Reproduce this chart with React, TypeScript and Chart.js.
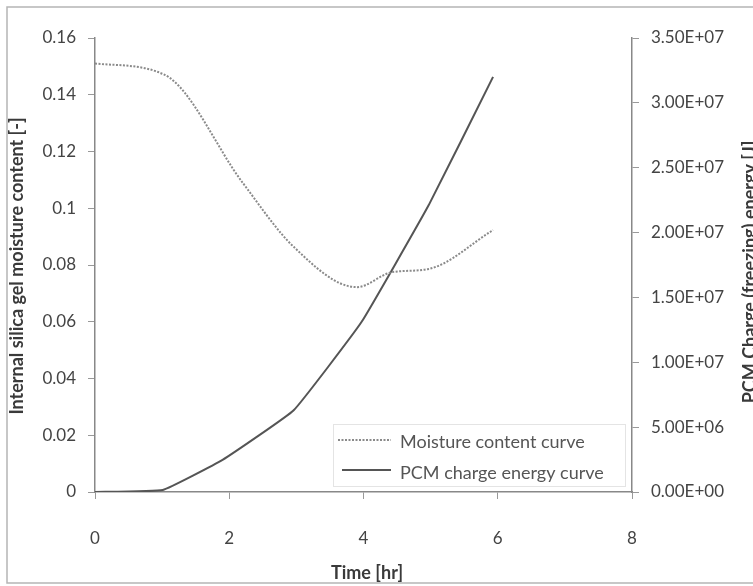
import React, { useEffect, useRef } from "react";
import { Chart, registerables } from "chart.js";

Chart.register(...registerables);

const moistureTime = [0, 1.04, 2.2, 2.96, 3.9, 4.43, 4.97, 5.93];
const moistureValues = [0.151, 0.147, 0.109, 0.0864, 0.0722, 0.0775, 0.0786, 0.0923];

const pcmTime = [0, 1.01, 1.9, 2.96, 3.97, 4.97, 5.93];
const pcmValues = [0, 1.5e5, 2.47e6, 6.3e6, 1.31e7, 2.21e7, 3.2e7];

const seriesLabels = ["Moisture content curve", "PCM charge energy curve"];
const xTitle = "Time [hr]";
const yLeftTitle = "Internal silica gel moisture content [-]";
const yRightTitle = "PCM Charge (freezing) energy [J]";

const FONT = "Lato, 'DejaVu Sans', sans-serif";

function fmtExp(v: number): string {
  if (v === 0) return "0.00E+00";
  const e = Math.floor(Math.log10(Math.abs(v)));
  const m = v / Math.pow(10, e);
  const es = (e < 0 ? "-" : "+") + String(Math.abs(e)).padStart(2, "0");
  return m.toFixed(2) + "E" + es;
}

const decorPlugin = {
  id: "decor",
  beforeDraw(chart: any) {
    const { ctx, width, height } = chart;
    ctx.save();
    ctx.fillStyle = "#ffffff";
    ctx.fillRect(0, 0, width, height);
    ctx.restore();
  },
  afterDraw(chart: any) {
    const { ctx } = chart;
    ctx.save();
    // outer frame
    ctx.strokeStyle = "#b5b5b5";
    ctx.lineWidth = 1.5;
    ctx.strokeRect(7, 7, 760, 576);

    // titles
    ctx.fillStyle = "#3a3a3a";
    ctx.font = `bold 18px ${FONT}`;
    ctx.textAlign = "center";
    ctx.textBaseline = "middle";
    ctx.fillText(xTitle, 367, 573);

    ctx.save();
    ctx.translate(17, 266);
    ctx.rotate(-Math.PI / 2);
    ctx.fillText(yLeftTitle, 0, 0);
    ctx.restore();

    ctx.save();
    ctx.translate(750, 272);
    ctx.rotate(-Math.PI / 2);
    ctx.fillText(yRightTitle, 0, 0);
    ctx.restore();

    // legend
    ctx.strokeStyle = "#e4e4e4";
    ctx.lineWidth = 1;
    ctx.strokeRect(333.5, 424.5, 292, 62);

    ctx.font = `18px ${FONT}`;
    ctx.textAlign = "left";
    ctx.fillStyle = "#555";

    ctx.strokeStyle = "#8a8a8a";
    ctx.lineWidth = 2;
    ctx.setLineDash([2, 1.5]);
    ctx.beginPath();
    ctx.moveTo(338, 440);
    ctx.lineTo(391, 440);
    ctx.stroke();
    ctx.setLineDash([]);
    ctx.fillText(seriesLabels[0], 400, 442);

    ctx.strokeStyle = "#555";
    ctx.lineWidth = 2;
    ctx.beginPath();
    ctx.moveTo(342, 470);
    ctx.lineTo(391, 470);
    ctx.stroke();
    ctx.fillText(seriesLabels[1], 400, 473);
    ctx.restore();
  },
};

export default function App() {
  const ref = useRef<HTMLCanvasElement | null>(null);

  useEffect(() => {
    if (!ref.current) return;
    const tickFont = { family: FONT, size: 17 };
    const chart = new Chart(ref.current, {
      type: "line",
      data: {
        datasets: [
          {
            label: seriesLabels[0],
            data: moistureTime.map((t, i) => ({ x: t, y: moistureValues[i] })),
            yAxisID: "y",
            borderColor: "#8a8a8a",
            borderWidth: 2,
            borderDash: [2, 1.5],
            pointRadius: 0,
            cubicInterpolationMode: "monotone",
            fill: false,
          },
          {
            label: seriesLabels[1],
            data: pcmTime.map((t, i) => ({ x: t, y: pcmValues[i] })),
            yAxisID: "y1",
            borderColor: "#555555",
            borderWidth: 2,
            pointRadius: 0,
            tension: 0.1,
            fill: false,
          },
        ],
      },
      options: {
        animation: false,
        responsive: false,
        maintainAspectRatio: false,
        layout: { padding: { top: 38, left: 0, right: 0, bottom: 0 } },
        plugins: {
          legend: { display: false },
          tooltip: { enabled: false },
        },
        scales: {
          x: {
            type: "linear",
            min: 0,
            max: 8,
            ticks: {
              stepSize: 2,
              padding: 29,
              color: "#444",
              font: tickFont,
            },
            grid: {
              drawOnChartArea: false,
              drawTicks: true,
              tickLength: 7,
              tickColor: "#999",
            },
            border: { color: "#888", width: 1.5 },
            afterFit: (s: any) => {
              s.height = 94;
            },
          },
          y: {
            type: "linear",
            position: "left",
            min: 0,
            max: 0.16,
            ticks: {
              stepSize: 0.02,
              padding: 12,
              color: "#444",
              font: tickFont,
              callback: (v: any) => String(Math.round(Number(v) * 100) / 100),
            },
            grid: {
              drawOnChartArea: false,
              drawTicks: true,
              tickLength: 7,
              tickColor: "#999",
            },
            border: { color: "#888", width: 1.5 },
            afterFit: (s: any) => {
              s.width = 95;
            },
          },
          y1: {
            type: "linear",
            position: "right",
            min: 0,
            max: 3.5e7,
            ticks: {
              stepSize: 5e6,
              padding: 12,
              color: "#444",
              font: tickFont,
              callback: (v: any) => fmtExp(Number(v)),
            },
            grid: {
              drawOnChartArea: false,
              drawTicks: true,
              tickLength: 7,
              tickColor: "#999",
            },
            border: { color: "#888", width: 1.5 },
            afterFit: (s: any) => {
              s.width = 121;
            },
          },
        },
      },
      plugins: [decorPlugin],
    } as any);
    return () => chart.destroy();
  }, []);

  return (
    <div style={{ position: "absolute", left: 0, top: 0, width: 753, height: 586 }}>
      <canvas ref={ref} width={753} height={586} style={{ width: 753, height: 586 }} />
    </div>
  );
}
